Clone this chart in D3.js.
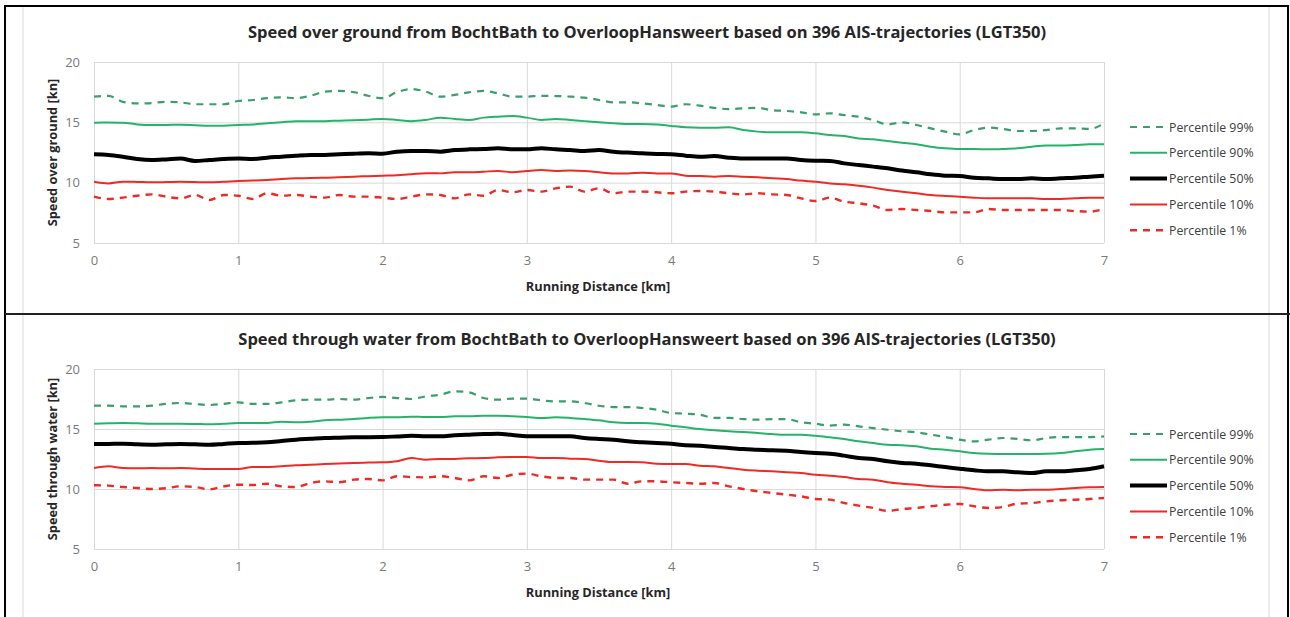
<!DOCTYPE html>
<html lang="en">
<head>
<meta charset="utf-8">
<title>Speed profiles BochtBath - OverloopHansweert</title>
<script src="https://cdn.jsdelivr.net/npm/d3@7"></script>
<style>
body { margin: 0; background: #fff; }
svg { display: block; font-family: "Open Sans", sans-serif; }
.grid line { stroke: #d9d9d9; stroke-width: 1; }
.grid .domain { display: none; }
.ticklab text { fill: #7a7a7a; font-size: 13px; }
.title { font-size: 16.5px; font-weight: bold; fill: #262626; }
.axtitle { font-size: 12.8px; font-weight: bold; fill: #262626; }
.legend text { font-size: 12.3px; fill: #404040; }
</style>
</head>
<body>
<svg width="1290" height="617"></svg>
<script>

// running distance [km]
var km = [0,0.1,0.2,0.3,0.4,0.5,0.6,0.7,0.8,0.9,1,1.1,1.2,1.3,1.4,1.5,1.6,1.7,1.8,1.9,2,2.1,2.2,2.3,2.4,2.5,2.6,2.7,2.8,2.9,3,3.1,3.2,3.3,3.4,3.5,3.6,3.7,3.8,3.9,4,4.1,4.2,4.3,4.4,4.5,4.6,4.7,4.8,4.9,5,5.1,5.2,5.3,5.4,5.5,5.6,5.7,5.8,5.9,6,6.1,6.2,6.3,6.4,6.5,6.6,6.7,6.8,6.9,7];

// speed over ground [kn]
var sog99 = [17.13,17.2,16.7,16.57,16.6,16.7,16.65,16.5,16.5,16.5,16.77,16.85,17.0,17.07,17.0,17.2,17.54,17.6,17.5,17.2,17.0,17.5,17.76,17.54,17.13,17.27,17.49,17.6,17.4,17.13,17.13,17.2,17.18,17.13,17.04,16.85,16.66,16.66,16.57,16.44,16.3,16.5,16.38,16.2,16.1,16.16,16.2,16.0,15.94,15.83,15.66,15.75,15.6,15.47,15.19,14.83,15.0,14.78,14.5,14.23,14.0,14.36,14.56,14.45,14.28,14.28,14.36,14.5,14.5,14.45,14.92];
var sog90 = [14.97,14.98,14.97,14.83,14.78,14.78,14.8,14.76,14.72,14.72,14.78,14.82,14.92,15.0,15.1,15.08,15.1,15.14,15.17,15.22,15.28,15.2,15.1,15.2,15.39,15.28,15.2,15.39,15.47,15.52,15.39,15.2,15.28,15.2,15.1,15.0,14.92,14.86,14.86,14.83,14.7,14.59,14.56,14.56,14.59,14.36,14.23,14.17,14.17,14.17,14.09,13.95,13.87,13.67,13.59,13.45,13.31,13.18,12.98,12.85,12.79,12.79,12.76,12.79,12.85,12.98,13.07,13.07,13.12,13.18,13.18];
var sog50 = [12.35,12.3,12.15,11.96,11.88,11.93,12.0,11.8,11.88,11.96,12.0,11.96,12.07,12.15,12.24,12.3,12.3,12.35,12.4,12.43,12.4,12.57,12.62,12.62,12.57,12.7,12.76,12.79,12.85,12.76,12.76,12.85,12.76,12.7,12.62,12.7,12.57,12.49,12.43,12.38,12.35,12.24,12.15,12.2,12.07,12.0,12.0,12.0,12.0,11.88,11.82,11.8,11.6,11.46,11.33,11.19,11.0,10.86,10.69,10.58,10.55,10.41,10.36,10.3,10.3,10.36,10.3,10.36,10.41,10.5,10.58];
var sog10 = [10.08,9.94,10.08,10.06,10.03,10.05,10.08,10.05,10.03,10.08,10.14,10.17,10.22,10.3,10.36,10.38,10.41,10.45,10.5,10.54,10.58,10.62,10.69,10.78,10.77,10.86,10.86,10.91,10.97,10.86,10.97,11.05,10.97,11.0,10.97,10.86,10.77,10.77,10.83,10.77,10.77,10.58,10.55,10.5,10.55,10.5,10.44,10.36,10.3,10.17,10.08,9.94,9.86,9.75,9.59,9.39,9.25,9.12,8.98,8.9,8.84,8.76,8.7,8.7,8.7,8.7,8.65,8.65,8.7,8.76,8.76];
var sog1 = [8.84,8.65,8.76,8.92,9.03,8.84,8.7,8.98,8.56,8.98,8.92,8.65,9.12,8.92,8.98,8.84,8.76,8.98,8.84,8.84,8.76,8.65,8.84,9.03,8.98,8.7,9.03,8.92,9.39,9.2,9.39,9.26,9.53,9.67,9.26,9.53,9.12,9.26,9.26,9.2,9.12,9.26,9.31,9.26,9.12,9.03,9.12,9.03,8.98,8.7,8.48,8.76,8.43,8.29,8.1,7.73,7.82,7.73,7.65,7.54,7.54,7.54,7.82,7.73,7.73,7.73,7.73,7.73,7.65,7.6,7.82];

// speed through water [kn]
var stw99 = [16.94,16.94,16.89,16.89,16.94,17.1,17.17,17.08,17.0,17.1,17.22,17.1,17.1,17.22,17.39,17.44,17.44,17.5,17.44,17.58,17.67,17.58,17.5,17.72,17.86,18.14,18.06,17.58,17.44,17.53,17.53,17.39,17.3,17.3,17.17,16.94,16.83,16.83,16.75,16.61,16.33,16.28,16.19,15.92,15.92,15.83,15.78,15.83,15.83,15.56,15.44,15.28,15.36,15.22,15.08,14.94,14.81,14.72,14.53,14.33,14.11,13.97,14.11,14.25,14.17,14.06,14.25,14.33,14.33,14.33,14.39];
var stw90 = [15.44,15.47,15.5,15.47,15.44,15.44,15.44,15.42,15.39,15.44,15.5,15.5,15.5,15.61,15.56,15.61,15.72,15.78,15.83,15.92,15.97,15.97,16.03,16.0,16.0,16.06,16.06,16.11,16.11,16.06,16.0,15.92,15.97,15.92,15.83,15.72,15.56,15.5,15.5,15.44,15.28,15.14,15.0,14.89,14.81,14.75,14.67,14.58,14.53,14.53,14.44,14.31,14.17,13.97,13.83,13.69,13.64,13.56,13.36,13.28,13.14,13.0,12.94,12.92,12.92,12.92,12.94,13.0,13.14,13.28,13.33];
var stw50 = [13.75,13.76,13.78,13.72,13.69,13.72,13.75,13.72,13.69,13.76,13.83,13.85,13.89,14.0,14.11,14.18,14.25,14.28,14.31,14.32,14.33,14.38,14.44,14.39,14.39,14.47,14.53,14.58,14.61,14.5,14.39,14.39,14.39,14.39,14.25,14.17,14.11,13.97,13.89,13.83,13.78,13.64,13.61,13.5,13.42,13.33,13.28,13.22,13.19,13.08,13.0,12.94,12.78,12.58,12.5,12.31,12.17,12.11,11.97,11.83,11.69,11.56,11.47,11.47,11.39,11.33,11.47,11.47,11.56,11.67,11.89];
var stw10 = [11.75,11.89,11.75,11.72,11.75,11.72,11.75,11.7,11.67,11.67,11.67,11.83,11.83,11.89,11.97,12.02,12.08,12.12,12.17,12.2,12.22,12.31,12.58,12.44,12.5,12.5,12.56,12.58,12.64,12.67,12.67,12.58,12.58,12.53,12.5,12.36,12.25,12.25,12.22,12.11,12.08,12.08,11.94,11.89,11.75,11.61,11.53,11.47,11.39,11.33,11.19,11.11,11.0,10.83,10.78,10.56,10.44,10.36,10.22,10.17,10.14,10.0,9.89,9.94,9.89,9.94,9.94,10.0,10.08,10.14,10.17];
var stw1 = [10.31,10.28,10.17,10.08,10.0,10.06,10.22,10.17,9.98,10.22,10.36,10.33,10.44,10.22,10.17,10.5,10.64,10.56,10.78,10.83,10.72,11.06,11.0,10.97,11.06,10.92,10.72,11.06,10.92,11.19,11.28,11.06,10.92,10.92,10.78,10.78,10.78,10.44,10.64,10.64,10.56,10.5,10.44,10.5,10.22,10.0,9.81,9.67,9.53,9.39,9.17,9.11,8.83,8.61,8.42,8.18,8.33,8.42,8.56,8.69,8.75,8.56,8.42,8.5,8.78,8.83,8.97,9.06,9.11,9.17,9.25];

var seriesNames = ["Percentile 99%", "Percentile 90%", "Percentile 50%", "Percentile 10%", "Percentile 1%"];
var xTicks = [0,1,2,3,4,5,6,7];
var yTicks = [5,10,15,20];

// line looks, same order as seriesNames
var looks = [
  {color: "#3a9e6e", width: 2.2, dash: "7,6"},
  {color: "#25b36a", width: 2,   dash: null},
  {color: "#000000", width: 4,   dash: null},
  {color: "#ee2a24", width: 2,   dash: null},
  {color: "#ee2a24", width: 2.4, dash: "7,6"}
];

var svg = d3.select("svg");

var panels = [
  {top: 62,  bottom: 243, title: "Speed over ground from BochtBath to OverloopHansweert based on 396 AIS-trajectories (LGT350)",
   ylab: "Speed over ground [kn]", series: [sog99, sog90, sog50, sog10, sog1], legTop: 127},
  {top: 369, bottom: 549, title: "Speed through water from BochtBath to OverloopHansweert based on 396 AIS-trajectories (LGT350)",
   ylab: "Speed through water [kn]", series: [stw99, stw90, stw50, stw10, stw1], legTop: 434}
];

var left = 94, right = 1104;

panels.forEach(function(p){
  var x = d3.scaleLinear().domain([0, 7]).range([left, right]);
  var y = d3.scaleLinear().domain([5, 20]).range([p.bottom, p.top]);
  var h = p.bottom - p.top;

  // grid
  svg.append("g").attr("class", "grid")
      .attr("transform", "translate(" + left + ",0)")
      .call(d3.axisLeft(y).tickValues(yTicks).tickSize(-(right - left)).tickFormat(""));
  svg.append("g").attr("class", "grid")
      .attr("transform", "translate(0," + p.bottom + ")")
      .call(d3.axisBottom(x).tickValues(xTicks).tickSize(-h).tickFormat(""));

  // tick labels
  var ya = svg.append("g").attr("class", "ticklab")
      .attr("transform", "translate(" + left + ",0)")
      .call(d3.axisLeft(y).tickValues(yTicks).tickSize(0).tickPadding(14).tickFormat(d3.format("d")));
  ya.select(".domain").remove();
  ya.selectAll("text").style("font-family", "Open Sans");
  var xa = svg.append("g").attr("class", "ticklab")
      .attr("transform", "translate(0," + p.bottom + ")")
      .call(d3.axisBottom(x).tickValues(xTicks).tickSize(0).tickPadding(13).tickFormat(d3.format("d")));
  xa.select(".domain").remove();
  xa.selectAll("text").style("font-family", "Open Sans");

  // lines
  var line = d3.line()
      .x(function(d, i) { return x(km[i]); })
      .y(function(d) { return y(d); })
      .curve(d3.curveMonotoneX);

  p.series.forEach(function(s, k){
    svg.append("path")
        .datum(s)
        .attr("fill", "none")
        .attr("stroke", looks[k].color)
        .attr("stroke-width", looks[k].width)
        .attr("stroke-dasharray", looks[k].dash)
        .attr("stroke-linejoin", "round")
        .attr("d", line);
  });

  // titles
  svg.append("text").attr("class", "title")
      .attr("x", 647).attr("y", p.top - 24)
      .attr("text-anchor", "middle").text(p.title);
  svg.append("text").attr("class", "axtitle")
      .attr("x", 598).attr("y", p.bottom + 48)
      .attr("text-anchor", "middle").text("Running Distance [km]");
  svg.append("text").attr("class", "axtitle")
      .attr("transform", "translate(57," + (p.top + h / 2) + ") rotate(-90)")
      .attr("text-anchor", "middle").text(p.ylab);

  // legend
  var leg = svg.append("g").attr("class", "legend");
  seriesNames.forEach(function(n, k){
    var ly = p.legTop + k * 25.8;
    leg.append("line")
        .attr("x1", 1130).attr("x2", 1167).attr("y1", ly).attr("y2", ly)
        .attr("stroke", looks[k].color)
        .attr("stroke-width", looks[k].width)
        .attr("stroke-dasharray", looks[k].dash);
    leg.append("text").attr("x", 1169).attr("y", ly + 4.5).text(n);
  });
});

// chart area edges and table borders
[23, 1269].forEach(function(cx){
  svg.append("line").attr("x1", cx).attr("x2", cx).attr("y1", 7).attr("y2", 617)
      .attr("stroke", "#d9d9d9");
});
svg.append("rect").attr("x", 5).attr("y", 6).attr("width", 1283).attr("height", 620)
    .attr("fill", "none").attr("stroke", "#000").attr("stroke-width", 2);
svg.append("line").attr("x1", 5).attr("x2", 1290).attr("y1", 314).attr("y2", 314)
    .attr("stroke", "#222").attr("stroke-width", 2);

</script>
</body>
</html>
